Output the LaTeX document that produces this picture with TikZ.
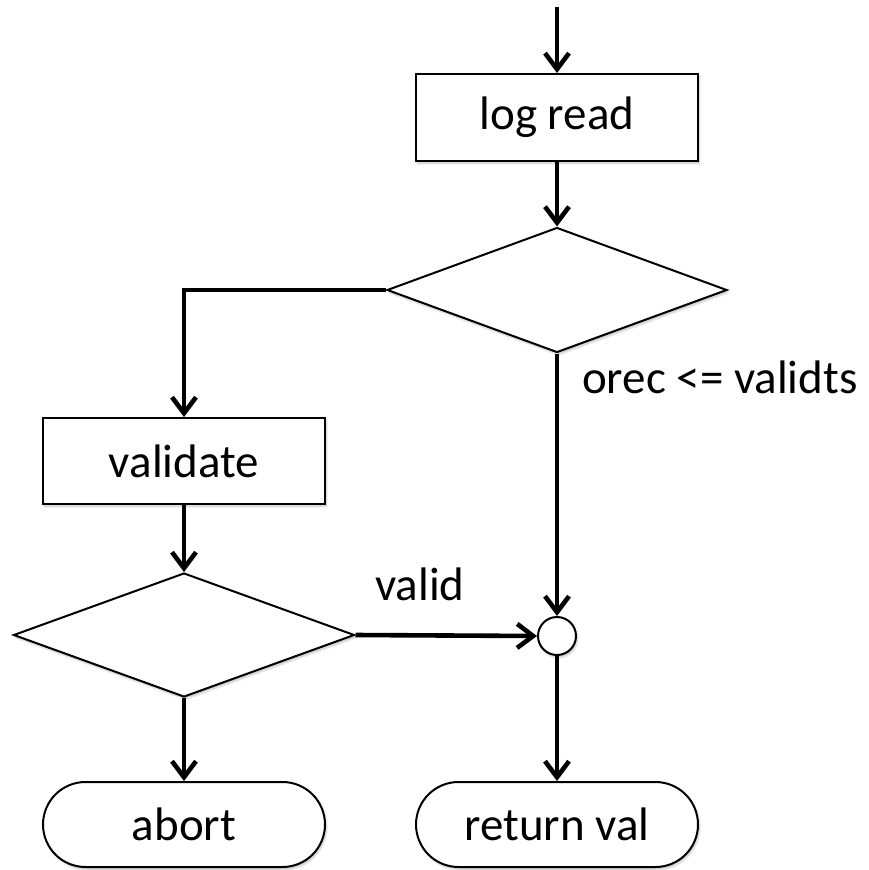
\documentclass[tikz,border=0pt]{standalone}
\usepackage{fontspec}
\setmainfont{Carlito}
\usetikzlibrary{arrows.meta,shapes.geometric,shapes.misc,shadows.blur}

\tikzset{
  soft/.style={blur shadow={shadow blur steps=6, shadow xshift=1.5pt, shadow yshift=-2.5pt, shadow opacity=22}},
  procbox/.style={draw, line width=2pt, fill=white, rectangle, inner sep=0pt, soft},
  decision/.style={draw, line width=2pt, fill=white, diamond, inner sep=0pt, soft},
  terminal/.style={draw, line width=2pt, fill=white, rounded rectangle, inner sep=0pt, soft},
  junction/.style={draw, line width=2pt, fill=white, circle, inner sep=0pt, minimum size=38pt, soft},
  flow/.style={line width=4.6pt, -{Straight Barb[length=16pt,width=24pt]}},
  lbl/.style={anchor=base west, inner sep=0pt},
}

\begin{document}
\begin{tikzpicture}[x=1pt, y=-1pt, font=\fontsize{47pt}{56pt}\selectfont]
  \useasboundingbox (0,0) rectangle (868,870);

  % process boxes
  \node[procbox, minimum width=282pt, minimum height=87pt] (logread) at (557,117.5) {log read};
  \node[procbox, minimum width=282pt, minimum height=86pt] (validate) at (184,461) {validate};

  % decisions
  \node[decision, minimum width=340pt, minimum height=125pt] (check) at (557,290) {};
  \node[decision, minimum width=341pt, minimum height=124pt] (isvalid) at (184,635) {};

  % merge point
  \node[junction] (merge) at (557,636) {};

  % terminals
  \node[terminal, minimum width=282pt, minimum height=85pt] (abort) at (184,824.5) {abort};
  \node[terminal, minimum width=282pt, minimum height=85pt] (retval) at (557,824.5) {return val};

  % entry and bend point
  \coordinate (entry) at (557,7);
  \coordinate (bend) at (184,290);

  % connectors
  \draw[flow] (entry) -- (logread.north);
  \draw[flow] (logread.south) -- (check.north);
  \draw[flow] (check.west) -- (bend) -- (validate.north);
  \draw[flow] (validate.south) -- (isvalid.north);
  \draw[flow] (isvalid.south) -- (abort.north);
  \draw[flow] (isvalid.east) -- (merge.west);
  \draw[flow] (check.south) -- (merge.north);
  \draw[flow] (merge.south) -- (retval.north);

  % branch labels
  \node[lbl] (lvalid) at (375,600) {valid};
  \node[lbl] (lorec) at (582,393) {orec <= validts};
\end{tikzpicture}
\end{document}
